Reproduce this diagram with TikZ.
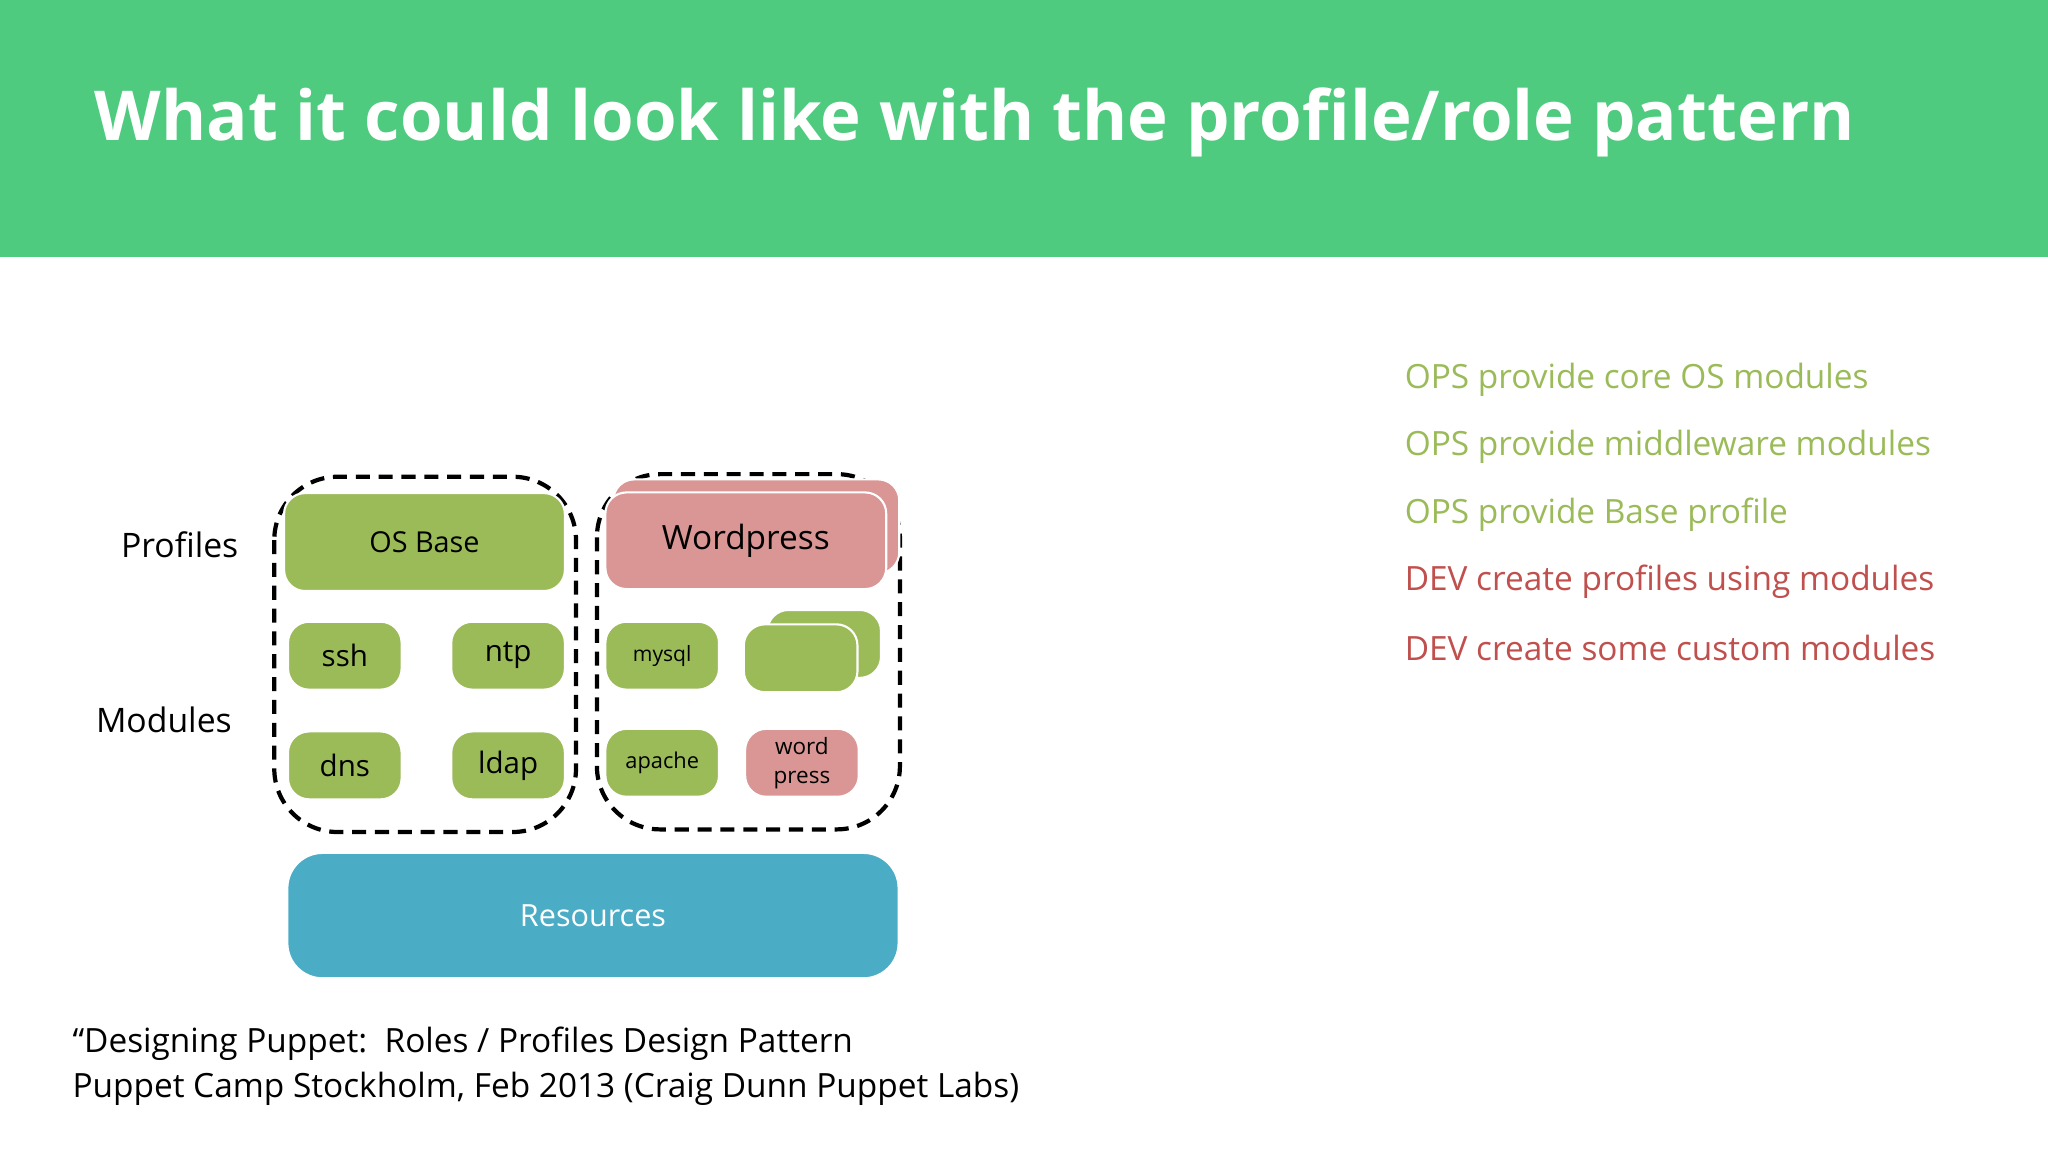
\documentclass[tikz,border=0pt]{standalone}
\usepackage{fontspec}
\setmainfont{Open Sans}
\definecolor{band}{HTML}{4FCB7F}
\definecolor{modgreen}{HTML}{9BBB59}
\definecolor{devred}{HTML}{C0504D}
\definecolor{pinkbox}{HTML}{D99694}
\definecolor{resblue}{HTML}{4BACC6}
\def\u{0.01306cm}
\begin{document}
\begin{tikzpicture}[x=0.01306cm,y=-0.01306cm,
  box/.style={rounded corners=6pt,draw=white,line width=0.6pt,inner sep=0pt,align=center,font=\fontsize{8.4}{10}\selectfont},
  gbox/.style={box,fill=modgreen},
  pbox/.style={box,fill=pinkbox},
  small/.style={minimum width=87*\u,minimum height=52*\u},
  group/.style={draw=black,dashed,line width=1.2pt,dash pattern=on 4pt off 2.5pt,rounded corners=18pt},
  lbl/.style={font=\fontsize{9.6}{11}\selectfont,inner sep=0pt},
  note/.style={font=\fontsize{9.5}{11}\selectfont,anchor=west,inner sep=0pt}]
\useasboundingbox (0,0) rectangle (1568,884.5);
\fill[white] (0,0) rectangle (1568,884.5);
\fill[band] (0,0) rectangle (1568,197);
\node[anchor=west,text=white,inner sep=0pt,font=\fontsize{19.6}{23}\selectfont\bfseries] (title) at (72,94) {What it could look like with the profile/role pattern};
% groups
\draw[group] (210,365) rectangle (441,637);
\draw[group] (457,363) rectangle (689,635);
% left group
\node[gbox,minimum width=215*\u,minimum height=75*\u,font=\fontsize{8.2}{10}\selectfont] (osbase) at (325,415) {OS Base};
\node[gbox,small] (ssh) at (264,502) {ssh};
\node[gbox,small] (ntp) at (389,502) {ntp};
\node[gbox,small] (dns) at (264,586) {dns};
\node[gbox,small] (ldap) at (389,586) {ldap};
% right group
\node[pbox,minimum width=219*\u,minimum height=72*\u] (wpback) at (579,403) {};
\node[pbox,minimum width=215*\u,minimum height=74*\u,font=\fontsize{9.5}{11}\selectfont] (wp) at (571,414) {Wordpress};
\node[gbox,small,font=\fontsize{6}{7}\selectfont] (mysql) at (507,502) {mysql};
\node[gbox,small] (stackback) at (631,493) {};
\node[gbox,small] (stackfront) at (613,504) {};
\node[gbox,small,font=\fontsize{6.2}{7}\selectfont] (apache) at (507,584) {apache};
\node[pbox,small,font=\fontsize{6.4}{8.3}\selectfont] (wordpress) at (614,584) {word\\press};
% resources
\node[box,fill=resblue,text=white,minimum width=468*\u,minimum height=96*\u,rounded corners=10pt,font=\fontsize{8.7}{10}\selectfont] (res) at (454,701) {Resources};
% side labels
\node[lbl,anchor=east] (profiles) at (183,417) {Profiles};
\node[lbl,anchor=east] (modules) at (178,551) {Modules};
% notes
\node[note,text=modgreen] (n1) at (1075,291) {OPS provide core OS modules};
\node[note,text=modgreen] (n2) at (1075,342) {OPS provide middleware modules};
\node[note,text=modgreen] (n3) at (1075,394) {OPS provide Base profile};
\node[note,text=devred] (n4) at (1075,445) {DEV create profiles using modules};
\node[note,text=devred] (n5) at (1075,496) {DEV create some custom modules};
% citation
\node[note] (c1) at (55,799) {“Designing Puppet:\ \ Roles / Profiles Design Pattern};
\node[note] (c2) at (55,834) {Puppet Camp Stockholm, Feb 2013 (Craig Dunn Puppet Labs)};
\end{tikzpicture}
\end{document}
